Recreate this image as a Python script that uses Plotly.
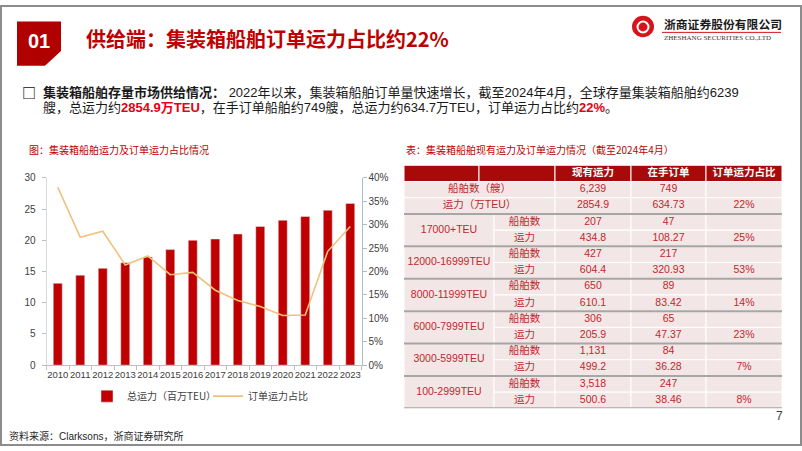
import plotly.graph_objects as go

W, H = 802, 451

# ---------------- data ----------------
years = [str(y) for y in range(2010, 2024)]
capacity = [13.1, 14.4, 15.5, 16.4, 17.3, 18.5, 20.0, 20.2, 21.0, 22.2, 23.2, 23.8, 24.8, 25.9]
order_share = [0.380, 0.273, 0.286, 0.214, 0.233, 0.193, 0.198, 0.160, 0.138, 0.125, 0.106, 0.107, 0.243, 0.296]

table_header = ["", "", "现有运力", "在手订单", "订单运力占比"]
total_labels = ["船舶数（艘）", "运力（万TEU）"]
total_fleet = ["6,239", "2854.9"]
total_orders = ["749", "634.73"]
total_share = ["", "22%"]
segments = ["17000+TEU", "12000-16999TEU", "8000-11999TEU", "6000-7999TEU", "3000-5999TEU", "100-2999TEU"]
sub_labels = ["船舶数", "运力"]
seg_ships_fleet = ["207", "427", "650", "306", "1,131", "3,518"]
seg_ships_orders = ["47", "217", "89", "65", "84", "247"]
seg_cap_fleet = ["434.8", "604.4", "610.1", "205.9", "499.2", "500.6"]
seg_cap_orders = ["108.27", "320.93", "83.42", "47.37", "36.28", "38.46"]
seg_share = ["25%", "53%", "14%", "23%", "7%", "8%"]

# ---------------- styles ----------------
RED = "#C00000"
GOLD = "#EFC27C"
HEAD_FILL = "#A80A0A"
BODY_FILL = "#F3E6E6"
BODY_TEXT = "#C0282D"
SEP_GRAY = "#A6A6A6"
FONT = "Liberation Sans, Noto Sans CJK SC, sans-serif"
CJK = "Noto Sans CJK SC, sans-serif"


def X(px):
    return px / W


def Y(py):
    return 1 - py / H


fig = go.Figure()

# ---------------- chart ----------------
fig.add_trace(go.Bar(x=years, y=capacity, name="总运力（百万TEU）", marker_color=RED,
                     xaxis="x", yaxis="y", hoverinfo="x+y"))
fig.add_trace(go.Scatter(x=years, y=order_share, name="订单运力占比", mode="lines",
                         line=dict(color=GOLD, width=1.6), xaxis="x", yaxis="y2"))

# ---------------- table ----------------
COL = [0, 75, 90, 151, 227, 302, 378]
shapes = []
tx, ty, tt, tc = [], [], [], []


def cell(x0, x1, y0, y1, fill):
    shapes.append(dict(type="rect", xref="x3", yref="y3", x0=x0, x1=x1, y0=y0, y1=y1,
                       fillcolor=fill, line=dict(color="white", width=1), layer="below"))


def text(xc, yc, s, color):
    if s == "":
        return
    tx.append(xc)
    ty.append(yc)
    tt.append(s)
    tc.append(color)


# header row
hdr_spans = [(COL[0], COL[1]), (COL[1], COL[3]), (COL[3], COL[4]), (COL[4], COL[5]), (COL[5], COL[6])]
for (a, b), s in zip(hdr_spans, table_header):
    cell(a, b, 0, 1, HEAD_FILL)
    text((a + b) / 2, 0.5, "<b>" + s + "</b>" if s else "", "white")

# totals
for i in range(2):
    r = 1 + i
    cell(COL[0], COL[3], r, r + 1, BODY_FILL)
    text((COL[0] + COL[3]) / 2, r + 0.5, total_labels[i], BODY_TEXT)
    for (a, b), s in zip([(COL[3], COL[4]), (COL[4], COL[5]), (COL[5], COL[6])],
                         [total_fleet[i], total_orders[i], total_share[i]]):
        cell(a, b, r, r + 1, BODY_FILL)
        text((a + b) / 2, r + 0.5, s, BODY_TEXT)

# segments
for g, seg in enumerate(segments):
    r = 3 + 2 * g
    cell(COL[0], COL[2], r, r + 2, BODY_FILL)
    text((COL[0] + COL[2]) / 2, r + 1, seg, BODY_TEXT)
    rows = [(seg_ships_fleet[g], seg_ships_orders[g], ""),
            (seg_cap_fleet[g], seg_cap_orders[g], seg_share[g])]
    for k in range(2):
        rr = r + k
        cell(COL[2], COL[3], rr, rr + 1, BODY_FILL)
        text((COL[2] + COL[3]) / 2, rr + 0.5, sub_labels[k], BODY_TEXT)
        for (a, b), s in zip([(COL[3], COL[4]), (COL[4], COL[5]), (COL[5], COL[6])], rows[k]):
            cell(a, b, rr, rr + 1, BODY_FILL)
            text((a + b) / 2, rr + 0.5, s, BODY_TEXT)

# gray group separators
for yline in [3] + [3 + 2 * (g + 1) for g in range(len(segments))]:
    shapes.append(dict(type="line", xref="x3", yref="y3", x0=COL[0], x1=COL[-1], y0=yline, y1=yline,
                       line=dict(color=SEP_GRAY, width=2), layer="above"))

fig.add_trace(go.Scatter(x=tx, y=ty, text=tt, mode="text", xaxis="x3", yaxis="y3",
                         textfont=dict(color=tc, size=10.5, family=FONT),
                         showlegend=False, hoverinfo="skip"))

# ---------------- decorations ----------------
# slide frame
shapes.append(dict(type="rect", xref="paper", yref="paper", x0=X(1), x1=X(801), y0=Y(450), y1=Y(1),
                   line=dict(color="#8C8C8C", width=2), fillcolor="rgba(0,0,0,0)"))
# "01" box with cut corner
path = "M {},{} L {},{} L {},{} L {},{} L {},{} Z".format(
    X(17), Y(17), X(61), Y(17), X(61), Y(47), X(45), Y(62), X(17), Y(62))
shapes.append(dict(type="path", xref="paper", yref="paper", path=path, fillcolor="#B00000",
                   line=dict(width=0)))
# logo
shapes.append(dict(type="circle", xref="paper", yref="paper", x0=X(632), x1=X(654), y0=Y(33), y1=Y(11),
                   fillcolor="#D7141A", line=dict(width=0)))
shapes.append(dict(type="circle", xref="paper", yref="paper", x0=X(637.5), x1=X(648.5), y0=Y(28), y1=Y(17),
                   fillcolor="rgba(0,0,0,0)", line=dict(color="white", width=2)))
shapes.append(dict(type="line", xref="paper", yref="paper", x0=X(662), x1=X(781), y0=Y(28), y1=Y(28),
                   line=dict(color="#D7141A", width=1)))

annotations = []


def ann(x, y, s, size, color="#262626", family=CJK, anchor="left"):
    annotations.append(dict(x=X(x), y=Y(y), xref="paper", yref="paper", text=s, showarrow=False,
                            xanchor=anchor, yanchor="middle", font=dict(size=size, color=color, family=family)))


ann(39, 37, "<b>01</b>", 20, "white", FONT, "center")
ann(84, 34, "<b>供给端：集装箱船舶订单运力占比约22%</b>", 20, RED)
ann(662, 19, "<b>浙商证券股份有限公司</b>", 11.8, "#1A1A1A")
ann(662, 34, "ZHESHANG SECURITIES CO.,LTD", 7, "#333333", "Liberation Serif, serif")

ann(20, 89, "<b>□</b>", 14, "#111111")
ann(41, 89, "<b>集装箱船舶存量市场供给情况：</b> 2022年以来，集装箱船舶订单量快速增长，截至2024年4月，全球存量集装箱船舶约6239",
    13, "#1A1A1A", FONT)
ann(41, 105, "艘，总运力约<b><span style='color:#E60012'>2854.9万TEU</span></b>，在手订单船舶约749艘，总运力约634.7万TEU，订单运力占比约"
             "<b><span style='color:#E60012'>22%</span></b>。", 13, "#1A1A1A", FONT)

ann(27, 148, "图：集装箱船舶运力及订单运力占比情况", 10, RED)
ann(404, 148, "表：集装箱船舶现有运力及订单运力情况（截至2024年4月）", 10, RED)
ann(7, 441, "资料来源：Clarksons，浙商证券研究所", 10, "#262626", FONT)
ann(779, 420, "7", 12, "#404040", FONT, "center")

fig.update_layout(
    width=W, height=H,
    margin=dict(l=0, r=0, t=0, b=0),
    paper_bgcolor="white", plot_bgcolor="rgba(0,0,0,0)",
    bargap=0.6,
    showlegend=True,
    legend=dict(orientation="h", x=X(87), y=Y(400), xanchor="left", yanchor="middle",
                font=dict(size=10, color="#404040", family=CJK), bgcolor="rgba(0,0,0,0)",
                entrywidth=76, entrywidthmode="pixels"),
    xaxis=dict(domain=[X(46.5), X(361.5)], anchor="y", type="category",
               showline=True, linecolor="#BFBFBF", linewidth=1,
               ticks="outside", tickson="boundaries", ticklen=4, tickcolor="#BFBFBF",
               tickangle=0, tickfont=dict(size=9.5, color="#404040", family=FONT), showgrid=False),
    yaxis=dict(domain=[Y(368.3), Y(176.7)], anchor="x", range=[0, 30], dtick=5,
               showline=True, linecolor="#D9D9D9", ticks="outside", ticklen=4, tickcolor="#BFBFBF",
               tickfont=dict(size=10, color="#404040", family=FONT), showgrid=False, zeroline=False,
               ticklabelstandoff=4),
    yaxis2=dict(overlaying="y", side="right", anchor="x", range=[0, 0.4], dtick=0.05, tickformat=".0%",
                showline=True, linecolor="#A9BFC2", ticks="outside", ticklen=4, tickcolor="#A9BFC2",
                tickfont=dict(size=10, color="#404040", family=FONT), showgrid=False, zeroline=False),
    xaxis3=dict(domain=[X(404), X(782)], anchor="y3", range=[0, 378], visible=False, fixedrange=True),
    yaxis3=dict(domain=[Y(412.5), Y(164)], anchor="x3", range=[15, 0], visible=False, fixedrange=True),
    shapes=shapes,
    annotations=annotations,
)

fig.write_html("out.html", config={"displayModeBar": False},
               post_script="document.body.style.margin='0px';document.body.style.overflow='hidden';")
